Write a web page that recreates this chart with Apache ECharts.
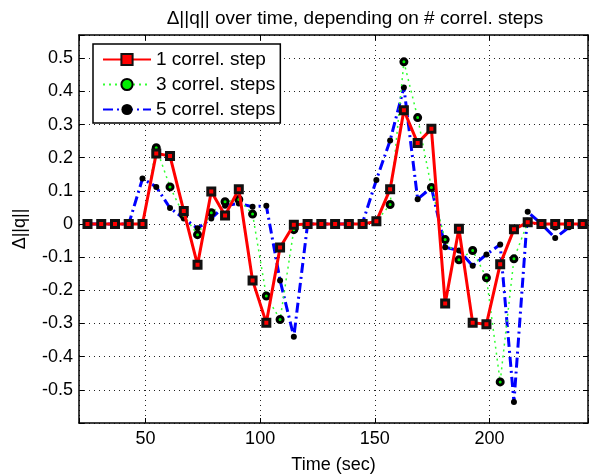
<!DOCTYPE html>
<html>
<head>
<meta charset="utf-8">
<script src="https://cdn.jsdelivr.net/npm/echarts@6/dist/echarts.min.js"></script>
<style>
  html, body { margin: 0; padding: 0; background: #fff; }
  #main { width: 597px; height: 474px; }
</style>
</head>
<body>
<div id="main"></div>
<script>
// sample times (sec), one every 6 s
var times = [24.7, 30.7, 36.7, 42.7, 48.7, 54.7, 60.7, 66.7, 72.7, 78.7, 84.7, 90.7,
    96.7, 102.7, 108.7, 114.7, 120.7, 126.7, 132.7, 138.7, 144.7, 150.7, 156.7, 162.7,
    168.7, 174.7, 180.7, 186.7, 192.7, 198.7, 204.7, 210.7, 216.7, 222.7, 228.7, 234.7, 240.7];

var step1 = [0, 0, 0, 0, 0, 0.213, 0.205, 0.039, -0.123, 0.098, 0.026, 0.105,
    -0.170, -0.298, -0.071, -0.002, 0, 0, 0, 0, 0, 0.008, 0.105, 0.343,
    0.244, 0.287, -0.240, -0.014, -0.298, -0.302, -0.121, -0.016, 0.005, 0, 0, 0, 0];

var step3 = [0, 0, 0, 0, 0.002, 0.230, 0.112, 0.026, -0.032, 0.034, 0.067, 0.074,
    0.030, -0.217, -0.288, -0.017, 0, 0, 0, 0, 0, 0.008, 0.059, 0.489,
    0.321, 0.110, -0.047, -0.108, -0.080, -0.162, -0.476, -0.105, 0.005, 0, -0.006, 0, 0];

var step5 = [0, 0, 0, 0, 0.137, 0.112, 0.048, 0.017, -0.013, 0.017, 0.055, 0.062,
    0.052, 0.055, -0.170, -0.340, 0, 0, 0, 0, 0.004, 0.133, 0.252, 0.412,
    0.075, 0.110, -0.070, -0.080, -0.126, -0.092, -0.062, -0.537, 0.037, 0, -0.042, -0.010, 0];

var seriesNames = ['1 correl. step', '3 correl. steps', '5 correl. steps'];

function pairs(vals) {
    return vals.map(function (v, i) { return [times[i], v]; });
}

var font = 'Liberation Sans';
var chart = echarts.init(document.getElementById('main'), null, { renderer: 'canvas' });

// top / right axes only draw the box and inward ticks
var boxAxis = {
    axisLine: { show: true, onZero: false, lineStyle: { color: '#000', width: 1.5 } },
    axisTick: { show: true, inside: true, length: 5, lineStyle: { color: '#000', width: 1 } },
    axisLabel: { show: false },
    splitLine: { show: false }
};

chart.setOption({
    backgroundColor: '#fff',
    animation: false,
    textStyle: { fontFamily: font, color: '#000' },
    title: {
        text: 'Δ||q|| over time, depending on # correl. steps',
        left: 350,
        top: 4,
        textAlign: 'center',
        textStyle: { fontFamily: font, fontSize: 19, fontWeight: 'normal', color: '#000' }
    },
    legend: {
        orient: 'vertical',
        left: 93,
        top: 44,
        padding: [6, 5, 4, 9],
        itemGap: 6,
        itemWidth: 48,
        itemHeight: 14,
        borderColor: '#000',
        borderWidth: 1.5,
        backgroundColor: '#fff',
        selectedMode: false,
        textStyle: { fontFamily: font, fontSize: 19, color: '#000' },
        data: seriesNames
    },
    grid: { left: 79, right: 9, top: 35, bottom: 51, outerBoundsMode: 'none' },
    xAxis: [{
        type: 'value',
        min: 21,
        max: 243,
        splitNumber: 5,
        name: 'Time (sec)',
        nameLocation: 'middle',
        nameGap: 33,
        nameTextStyle: { fontFamily: font, fontSize: 18, color: '#000' },
        axisLine: { onZero: false, lineStyle: { color: '#000', width: 1.5 } },
        axisTick: { inside: true, length: 5, lineStyle: { color: '#000' } },
        axisLabel: {
            fontFamily: font, fontSize: 18, color: '#000', margin: 7,
            formatter: function (v) { return v % 50 === 0 ? String(v) : ''; }
        },
        splitLine: { show: true, lineStyle: { color: '#222', width: 1, type: [1, 4] } }
    }, Object.assign({ type: 'value', position: 'top', min: 21, max: 243, splitNumber: 5 }, boxAxis)],
    yAxis: [{
        type: 'value',
        min: -0.6,
        max: 0.57,
        interval: 0.1,
        name: 'Δ||q||',
        nameLocation: 'middle',
        nameGap: 50,
        nameTextStyle: { fontFamily: font, fontSize: 18, color: '#000' },
        axisLine: { show: true, onZero: false, lineStyle: { color: '#000', width: 1.5 } },
        axisTick: { show: true, inside: true, length: 5, lineStyle: { color: '#000' } },
        axisLabel: {
            fontFamily: font, fontSize: 18, color: '#000', margin: 6,
            formatter: function (v) {
                if (v < -0.55 || v > 0.55) return '';
                return String(Math.round(v * 10) / 10);
            }
        },
        splitLine: { show: true, lineStyle: { color: '#222', width: 1, type: [1, 4] } }
    }, Object.assign({ type: 'value', position: 'right', min: -0.6, max: 0.57, interval: 0.1 }, boxAxis)],
    series: [{
        name: seriesNames[2],
        type: 'line',
        z: 2,
        data: pairs(step5),
        symbol: 'circle',
        symbolSize: 6,
        lineStyle: { color: '#0000ff', width: 3, type: [10, 4, 2, 4] },
        itemStyle: { color: '#000', borderWidth: 0 }
    }, {
        name: seriesNames[1],
        type: 'line',
        z: 3,
        data: pairs(step3),
        symbol: 'circle',
        symbolSize: 6,
        lineStyle: { color: '#33ff33', width: 1.5, type: [2, 4] },
        itemStyle: { color: '#00ee00', borderColor: '#000', borderWidth: 3 }
    }, {
        name: seriesNames[0],
        type: 'line',
        z: 4,
        data: pairs(step1),
        symbol: 'rect',
        symbolSize: 7,
        lineStyle: { color: '#ff0000', width: 3 },
        itemStyle: { color: '#ff0000', borderColor: '#111', borderWidth: 3 }
    }]
});
</script>
</body>
</html>
